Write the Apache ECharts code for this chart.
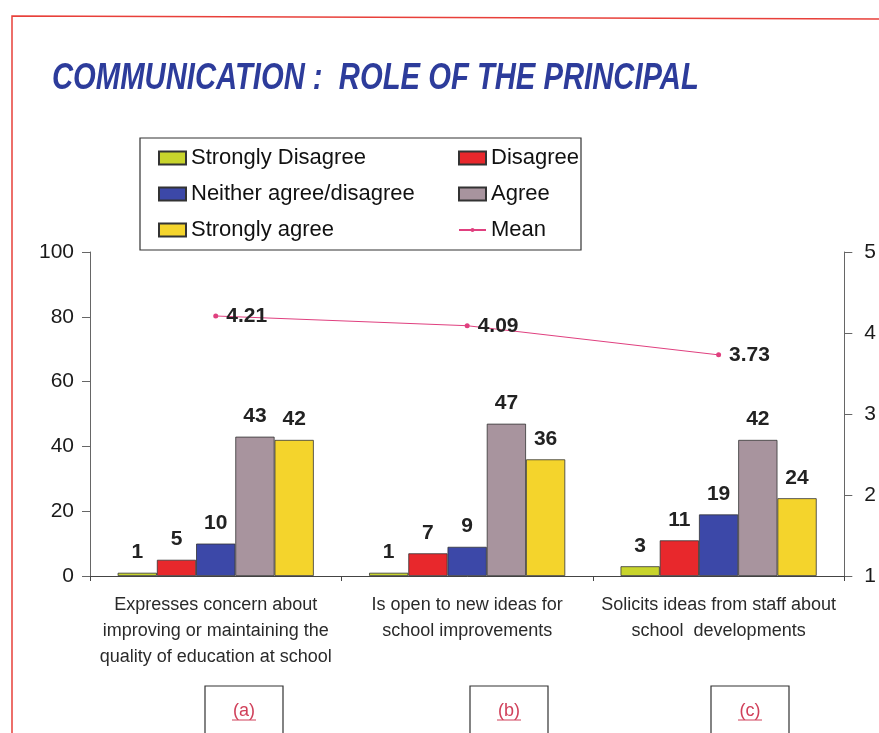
<!DOCTYPE html>
<html>
<head>
<meta charset="utf-8">
<script src="https://cdn.jsdelivr.net/npm/echarts@6/dist/echarts.min.js"></script>
<style>
  html, body { margin: 0; padding: 0; background: #fff; }
  #chart { width: 879px; height: 733px; }
</style>
</head>
<body>
<div id="chart"></div>
<script>
// categories (x axis)
const categories = [
  'Expresses concern about\nimproving or maintaining the\nquality of education at school',
  'Is open to new ideas for\nschool improvements',
  'Solicits ideas from staff about\nschool  developments'
]
const panelTags = ['(a)', '(b)', '(c)']

// percentages per response
const stronglyDisagree = [1, 1, 3]
const disagree = [5, 7, 11]
const neither = [10, 9, 19]
const agree = [43, 47, 42]
const stronglyAgree = [42, 36, 24]

// mean score (right axis 1..5)
const mean = [4.21, 4.09, 3.73]

const leftTicks = [0, 20, 40, 60, 80, 100]
const rightTicks = [1, 2, 3, 4, 5]

const chart = echarts.init(document.getElementById('chart'))

const FONT = 'Liberation Sans, Arial, sans-serif'

const barLabel = {
  show: true,
  position: 'top',
  distance: 10,
  color: '#222',
  fontSize: 21,
  fontWeight: 'bold',
  fontFamily: FONT
}

const makeBar = (name, data, color) => ({
  name,
  type: 'bar',
  data,
  barGap: '0%',
  barCategoryGap: '22%',
  itemStyle: { color, borderColor: '#333', borderWidth: 0.8 },
  label: barLabel
})

// shared legend look
const legendBase = {
  orient: 'vertical',
  top: 145,
  padding: 0,
  itemGap: 10,
  itemWidth: 27,
  itemHeight: 13,
  textStyle: {
    color: '#111',
    fontSize: 22,
    fontFamily: FONT,
    lineHeight: 26
  }
}

// boxes with (a) (b) (c) under each group
const boxX = [205, 470, 711]
const tagGraphics = []
boxX.forEach((x, i) => {
  tagGraphics.push({
    type: 'rect',
    shape: { x, y: 686, width: 78, height: 60 },
    style: { fill: 'none', stroke: '#333', lineWidth: 1.2 }
  })
  tagGraphics.push({
    type: 'text',
    x: x + 39,
    y: 711,
    style: {
      text: panelTags[i],
      fill: '#d0405a',
      font: '18px ' + FONT,
      textAlign: 'center',
      textVerticalAlign: 'middle'
    }
  })
  tagGraphics.push({
    type: 'line',
    shape: { x1: x + 27, y1: 720, x2: x + 51, y2: 720 },
    style: { stroke: '#d0405a', lineWidth: 1 }
  })
})

const option = {
  backgroundColor: '#fff',
  animation: false,
  legend: [
    Object.assign({}, legendBase, {
      left: 158,
      icon: 'rect',
      data: ['Strongly Disagree', 'Neither agree/disagree', 'Strongly agree']
    }),
    Object.assign({}, legendBase, {
      left: 458,
      icon: 'rect',
      data: ['Disagree', 'Agree']
    }),
    Object.assign({}, legendBase, {
      left: 458,
      top: 217,
      itemHeight: 5,
      data: ['Mean']
    })
  ],
  grid: { left: 90, right: 33, top: 252, bottom: 157 },
  xAxis: {
    type: 'category',
    data: categories,
    axisLine: { lineStyle: { color: '#444' } },
    axisTick: { show: true, length: 5, lineStyle: { color: '#444' } },
    axisLabel: {
      color: '#2a2a2a',
      fontSize: 18,
      fontFamily: FONT,
      lineHeight: 26,
      margin: 16,
      interval: 0
    }
  },
  yAxis: [
    {
      type: 'value',
      min: leftTicks[0],
      max: leftTicks[leftTicks.length - 1],
      interval: 20,
      position: 'left',
      splitLine: { show: false },
      axisLine: { show: true, lineStyle: { color: '#666' } },
      axisTick: { show: true, length: 8, lineStyle: { color: '#666' } },
      axisLabel: { color: '#1a1a1a', fontSize: 21, fontFamily: FONT, margin: 16 }
    },
    {
      type: 'value',
      min: rightTicks[0],
      max: rightTicks[rightTicks.length - 1],
      interval: 1,
      position: 'right',
      splitLine: { show: false },
      axisLine: { show: true, lineStyle: { color: '#666' } },
      axisTick: { show: true, length: 8, lineStyle: { color: '#666' } },
      axisLabel: { color: '#1a1a1a', fontSize: 21, fontFamily: FONT, margin: 20 }
    }
  ],
  series: [
    makeBar('Strongly Disagree', stronglyDisagree, '#c8d42c'),
    makeBar('Disagree', disagree, '#e8282c'),
    makeBar('Neither agree/disagree', neither, '#3c48a8'),
    makeBar('Agree', agree, '#a8949e'),
    makeBar('Strongly agree', stronglyAgree, '#f4d42c'),
    {
      name: 'Mean',
      type: 'line',
      yAxisIndex: 1,
      data: mean,
      color: '#e0407f',
      symbol: 'circle',
      symbolSize: 5,
      lineStyle: { color: '#e0407f', width: 1 },
      itemStyle: { color: '#e0407f' },
      label: {
        show: true,
        position: 'right',
        distance: 8,
        color: '#222',
        fontSize: 21,
        fontWeight: 'bold',
        fontFamily: FONT,
        formatter: p => p.value.toFixed(2)
      },
      z: 5
    }
  ],
  graphic: [
    // red page frame
    {
      type: 'polyline',
      shape: { points: [[12, 733], [12, 16], [879, 19]] },
      style: { fill: 'none', stroke: '#e8403a', lineWidth: 1.5 }
    },
    // title, squeezed to match the condensed original face
    {
      type: 'text',
      x: 52,
      y: 97,
      scaleX: 0.79,
      style: {
        text: 'COMMUNICATION :  ROLE OF THE PRINCIPAL',
        fill: '#2d3c9b',
        font: 'italic bold 37px ' + FONT,
        textVerticalAlign: 'bottom'
      }
    },
    // legend frame
    {
      type: 'rect',
      shape: { x: 140, y: 138, width: 441, height: 112 },
      style: { fill: 'none', stroke: '#333', lineWidth: 1.2 },
      z: -1
    },
    ...tagGraphics
  ]
}

chart.setOption(option)
</script>
</body>
</html>
